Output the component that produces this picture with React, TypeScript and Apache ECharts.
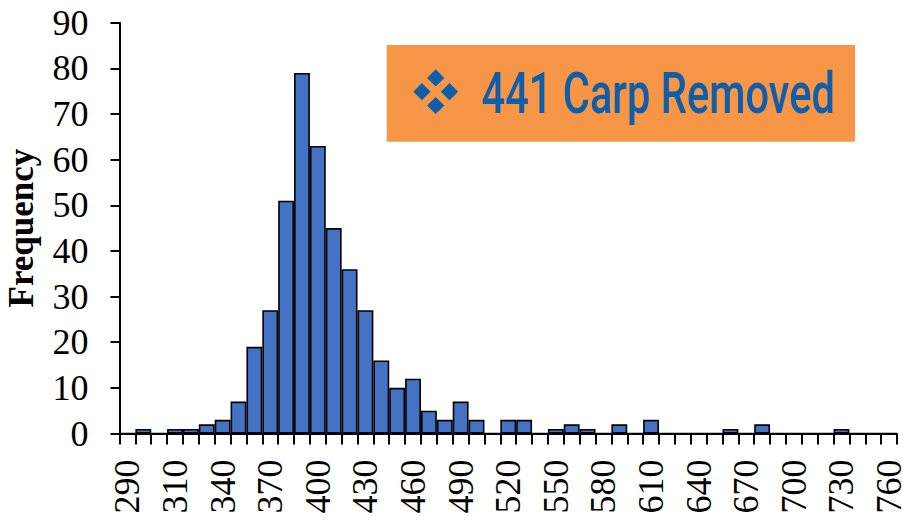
import React, { useEffect, useRef } from "react";
import * as echarts from "echarts";

// Histogram of carp lengths, 10-unit bins (49 bins); labels shown every third bin
const tickLabels = ["290", "310", "340", "370", "400", "430", "460", "490", "520", "550", "580", "610", "640", "670", "700", "730", "760"];
const frequencies = [
  0, 1, 0, 1, 1, 2, 3, 7, 19, 27,
  51, 79, 63, 45, 36, 27, 16, 10, 12, 5,
  3, 7, 3, 0, 3, 3, 0, 1, 2, 1,
  0, 2, 0, 3, 0, 0, 0, 0, 1, 0,
  2, 0, 0, 0, 0, 1, 0, 0, 0,
];
const yAxisName = "Frequency";
const badgeText = "441 Carp Removed";

const BLUE_TEXT = "#0E5EAA";

export default function App() {
  const ref = useRef<HTMLDivElement>(null);
  useEffect(() => {
    if (!ref.current) return;
    const chart = echarts.init(ref.current, null, { renderer: "svg" });
    const categories = frequencies.map((_, i) => String(i));
    const cx = 435.7, cy = 91.7, off = 13.8, h = 8.6;
    const diamond = (x: number, y: number) => ({
      type: "polygon",
      shape: { points: [[x, y - h], [x + h, y], [x, y + h], [x - h, y]] },
      style: { fill: BLUE_TEXT },
      z: 101,
    });
    chart.setOption({
      animation: false,
      backgroundColor: "#ffffff",
      grid: { left: 119.5, right: 6, top: 22.7, bottom: 86.5, containLabel: false, outerBoundsMode: "none" },
      xAxis: {
        type: "category",
        data: categories,
        boundaryGap: true,
        axisLine: { show: true, lineStyle: { color: "#000", width: 2 } },
        axisTick: { show: true, interval: 0, length: 11, lineStyle: { color: "#000", width: 2 } },
        axisLabel: {
          interval: 2,
          rotate: 90,
          margin: 26,
          fontFamily: "Liberation Serif",
          fontSize: 36,
          color: "#000",
          formatter: (_v: string, i: number) => tickLabels[Math.round(i / 3)] ?? "",
        },
        splitLine: { show: false },
      },
      yAxis: {
        type: "value",
        min: 0,
        max: 90,
        interval: 10,
        name: yAxisName,
        nameLocation: "middle",
        nameGap: 81,
        nameRotate: 90,
        nameTextStyle: { fontFamily: "Liberation Serif", fontWeight: "bold", fontSize: 35, color: "#000" },
        axisLine: { show: true, lineStyle: { color: "#000", width: 2 } },
        axisTick: { show: true, length: 9, lineStyle: { color: "#000", width: 2 } },
        axisLabel: { margin: 31, fontFamily: "Liberation Serif", fontSize: 36, color: "#000" },
        splitLine: { show: false },
      },
      series: [
        {
          type: "bar",
          data: frequencies,
          barCategoryGap: "0%",
          itemStyle: { color: "#4472C4", borderColor: "#000", borderWidth: 1.6 },
        },
      ],
      graphic: [
        {
          type: "rect",
          shape: { x: 386.7, y: 45, width: 468.3, height: 96.7 },
          style: { fill: "#F79646" },
          z: 100,
        },
        diamond(cx, cy - off),
        diamond(cx - off, cy),
        diamond(cx + off, cy),
        diamond(cx, cy + off),
        {
          type: "text",
          x: 481.5,
          y: 94,
          scaleX: 0.73,
          z: 101,
          style: {
            text: badgeText,
            fill: BLUE_TEXT,
            fontFamily: "Roboto",
            fontWeight: 500,
            fontSize: 57,
            align: "left",
            verticalAlign: "middle",
          },
        },
      ],
    });
    return () => chart.dispose();
  }, []);
  return <div ref={ref} style={{ width: 903, height: 520, position: "absolute", left: 0, top: 0 }} />;
}
